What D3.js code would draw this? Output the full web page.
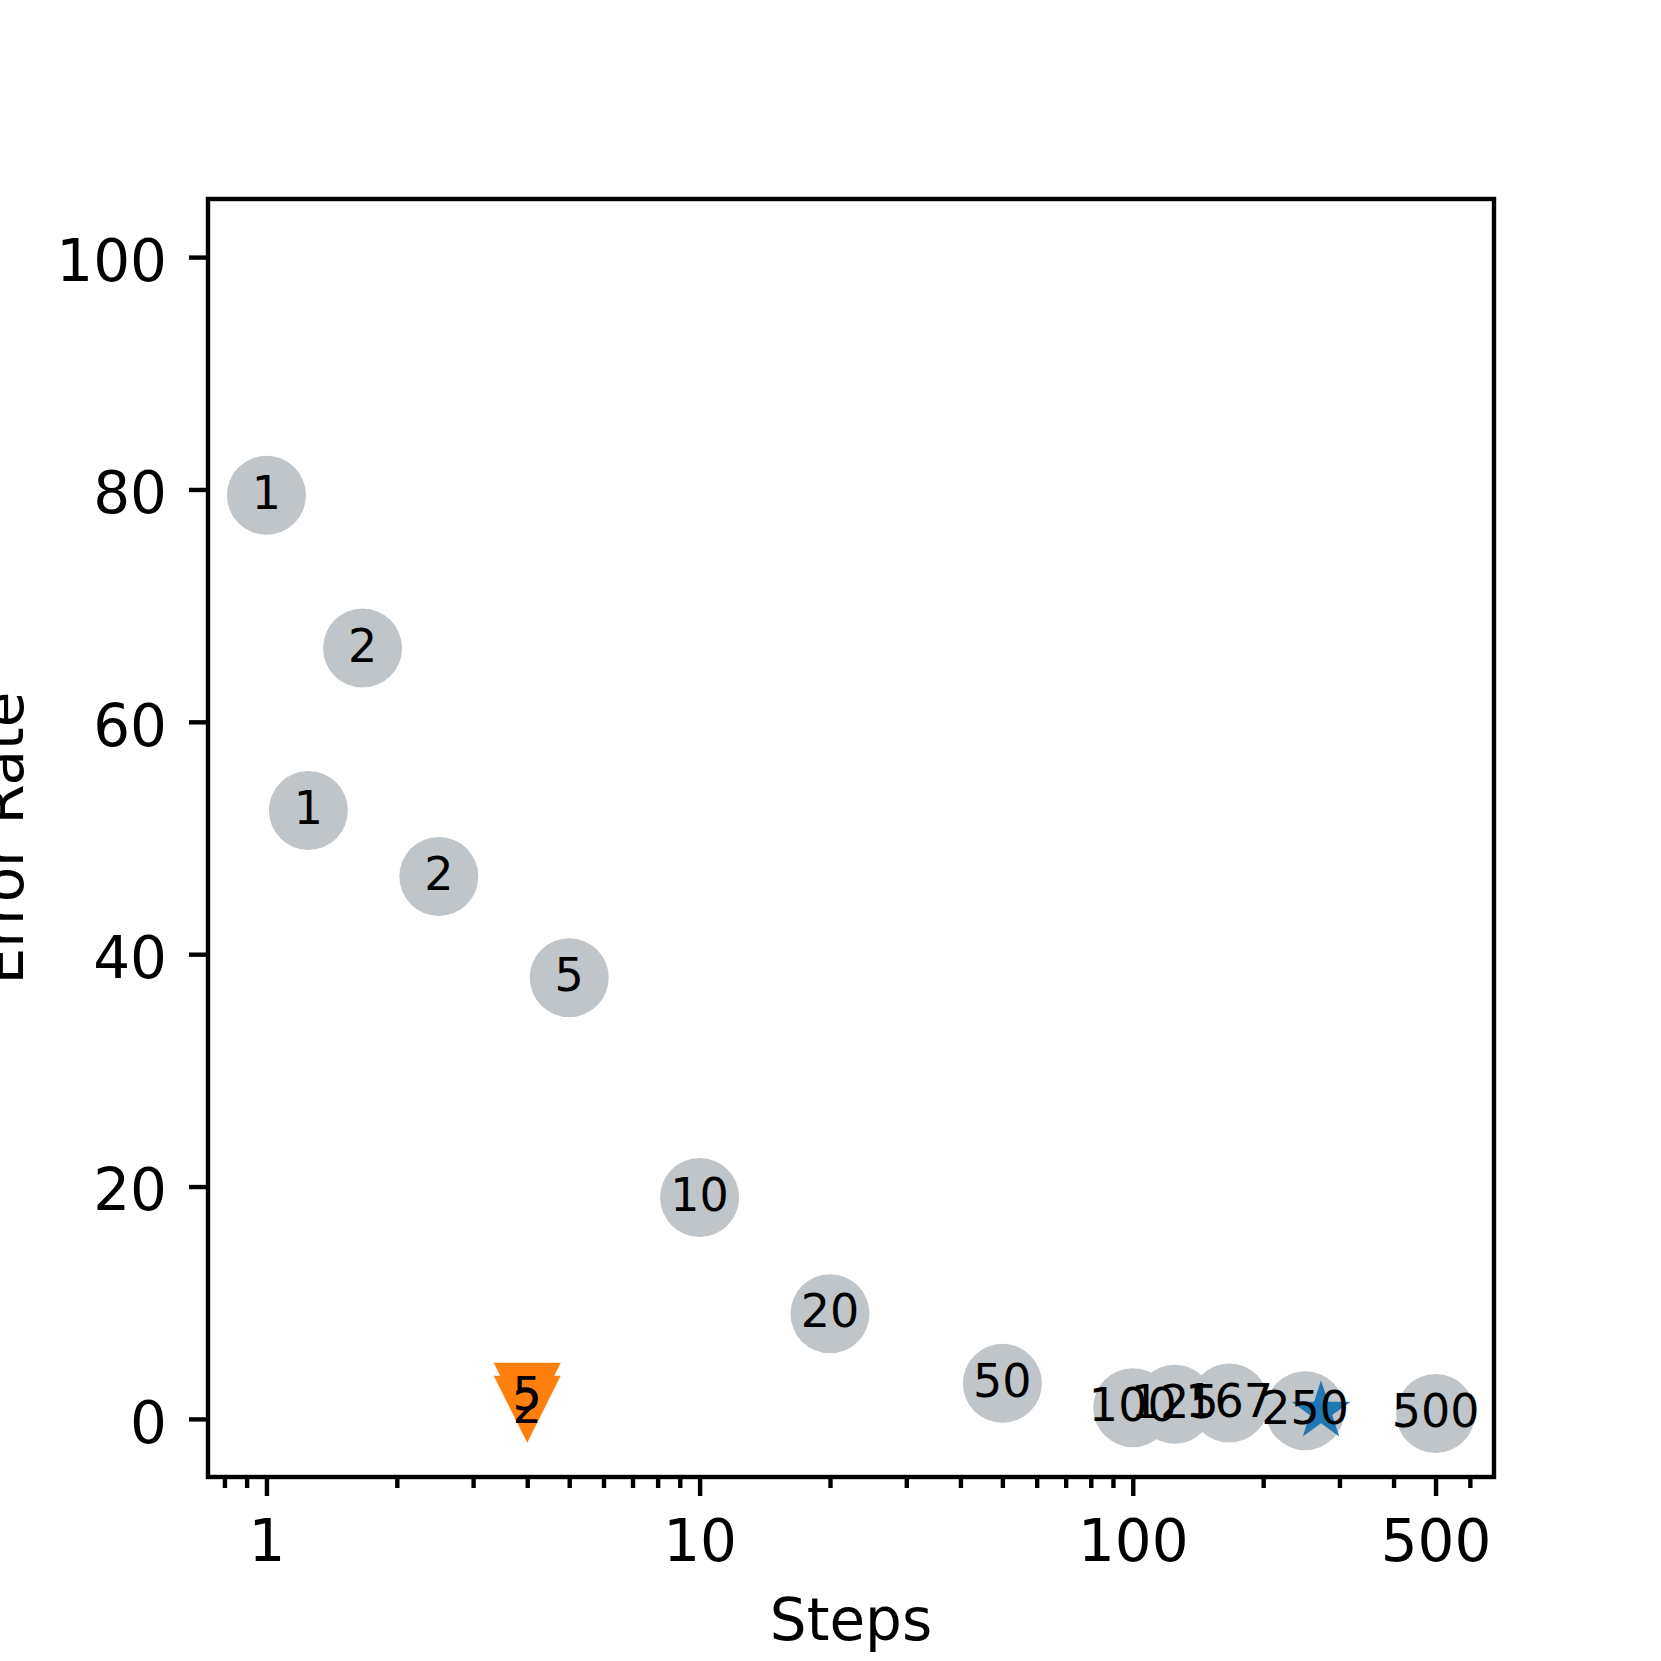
<!DOCTYPE html>
<html>
<head>
<meta charset="utf-8">
<script src="https://cdn.jsdelivr.net/npm/d3@7"></script>
<style>
  body { margin: 0; background: #fff; }
  text { font-family: "DejaVu Sans", sans-serif; fill: #000; }
</style>
</head>
<body>
<svg width="1661" height="1661"></svg>
<script>
// gray labelled points
const steps = [1, 1.667, 1.25, 2.5, 5, 10, 20, 50, 100, 125, 167, 250, 500];
const errors = [79.5, 66.35, 52.37, 46.69, 37.98, 19.06, 9.05, 3.06, 0.97, 1.27, 1.36, 0.71, 0.46];
const labels = ["1", "2", "1", "2", "5", "10", "20", "50", "100", "125", "167", "250", "500"];

// orange triangles
const triSteps = [4, 4];
const triErrors = [1.94, 0.84];
const triLabels = ["5", "2"];

// blue star
const starSteps = [272];
const starErrors = [0.65];

// ticks
const xTicks = [1, 10, 100, 500];
const xMinor = [0.8, 0.9, 2, 3, 4, 5, 6, 7, 8, 9, 20, 30, 40, 50, 60, 70, 80, 90, 200, 300, 400, 600];
const yTicks = [0, 20, 40, 60, 80, 100];

const svg = d3.select("svg");
const plotLeft = 208, plotRight = 1494, plotTop = 199, plotBottom = 1477;

const x = d3.scaleLog().domain([0.7330, 682.2]).range([plotLeft, plotRight]);
const y = d3.scaleLinear().domain([-5, 105]).range([plotBottom, plotTop]);

const lw = 4.4;
const fontBig = "58px";

// circles
svg.append("g").selectAll("circle")
  .data(steps.map((s, i) => ({s: s, e: errors[i]})))
  .enter().append("circle")
    .attr("cx", d => x(d.s))
    .attr("cy", d => y(d.e))
    .attr("r", 39.5)
    .attr("fill", "#bfc5c9");

// star marker, matplotlib style (inner radius 0.382)
function starPath(R) {
  const p = d3.path();
  for (let k = 0; k < 10; k++) {
    const r = k % 2 ? R * 0.381966 : R;
    const a = -Math.PI / 2 + k * Math.PI / 5;
    if (k === 0) p.moveTo(r * Math.cos(a), r * Math.sin(a));
    else p.lineTo(r * Math.cos(a), r * Math.sin(a));
  }
  p.closePath();
  return p.toString();
}
svg.append("g").selectAll("path")
  .data(starSteps.map((s, i) => ({s: s, e: starErrors[i]})))
  .enter().append("path")
    .attr("transform", d => "translate(" + x(d.s) + "," + y(d.e) + ")")
    .attr("d", starPath(31))
    .attr("fill", "#1f77b4");

// downward triangles
const h = 33.5;
svg.append("g").selectAll("path")
  .data(triSteps.map((s, i) => ({s: s, e: triErrors[i]})))
  .enter().append("path")
    .attr("transform", d => "translate(" + x(d.s) + "," + y(d.e) + ")")
    .attr("d", "M" + (-h) + "," + (-h) + "L" + h + "," + (-h) + "L0," + h + "Z")
    .attr("fill", "#ff7f0e");

// annotations on top of all markers
const annot = steps.map((s, i) => ({s: s, e: errors[i], t: labels[i]}))
  .concat(triSteps.map((s, i) => ({s: s, e: triErrors[i], t: triLabels[i]})));
svg.append("g").selectAll("text")
  .data(annot)
  .enter().append("text")
    .attr("x", d => x(d.s))
    .attr("y", d => y(d.e) + 13.5)
    .attr("text-anchor", "middle")
    .style("font-size", "46px")
    .text(d => d.t);

// axes
const xAxis = svg.append("g")
  .attr("transform", "translate(0," + plotBottom + ")")
  .call(d3.axisBottom(x).tickValues(xTicks).tickFormat(d3.format("d")).tickSize(19).tickPadding(24));
const xAxisMinor = svg.append("g")
  .attr("transform", "translate(0," + plotBottom + ")")
  .call(d3.axisBottom(x).tickValues(xMinor).tickFormat("").tickSize(11));
const yAxis = svg.append("g")
  .attr("transform", "translate(" + plotLeft + ",0)")
  .call(d3.axisLeft(y).tickValues(yTicks).tickSize(19).tickPadding(22));

[xAxis, xAxisMinor, yAxis].forEach(g => {
  g.select(".domain").remove();
  g.selectAll("line").attr("stroke", "#000").attr("stroke-width", lw);
  g.selectAll("text").style("font-size", fontBig).style("font-family", "DejaVu Sans");
});
yAxis.selectAll("text").attr("dy", "0.4em");

// frame
svg.append("rect")
  .attr("x", plotLeft).attr("y", plotTop)
  .attr("width", plotRight - plotLeft).attr("height", plotBottom - plotTop)
  .attr("fill", "none").attr("stroke", "#000").attr("stroke-width", lw);

// axis labels
svg.append("text")
  .attr("x", (plotLeft + plotRight) / 2).attr("y", 1640)
  .attr("text-anchor", "middle")
  .style("font-size", fontBig)
  .text("Steps");
svg.append("text")
  .attr("transform", "translate(23," + (plotTop + plotBottom) / 2 + ") rotate(-90)")
  .attr("text-anchor", "middle")
  .style("font-size", fontBig)
  .text("Error Rate");
</script>
</body>
</html>
